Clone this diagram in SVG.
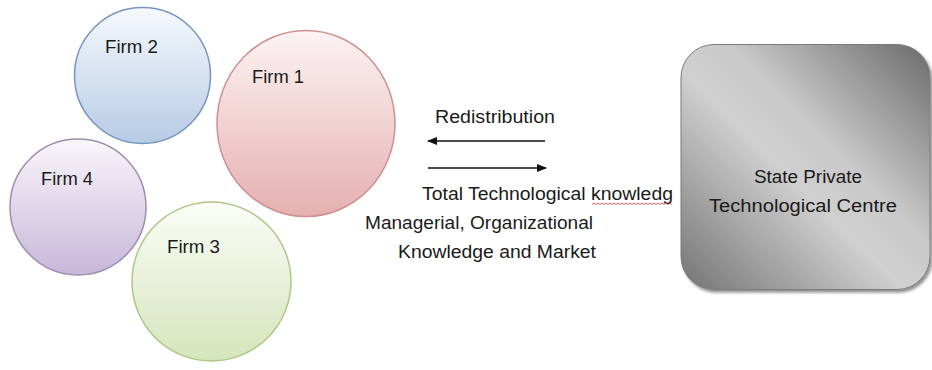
<svg xmlns="http://www.w3.org/2000/svg" width="932" height="370" viewBox="0 0 932 370">
  <defs>
    <style>
      .lbl { font-family: "Liberation Sans", Arial, sans-serif; font-size: 17.5px; fill: #1a1a1a; }
      .firm { stroke-width: 1.5; }
      .arrow { stroke: #111; stroke-width: 1.6; fill: none; }
    </style>
    <linearGradient id="gRed" x1="0" y1="0" x2="0" y2="1">
      <stop offset="0" stop-color="#fdf3f3"/>
      <stop offset="1" stop-color="#e5b0b0"/>
    </linearGradient>
    <linearGradient id="gBlue" x1="0" y1="0" x2="0" y2="1">
      <stop offset="0" stop-color="#f6f9fd"/>
      <stop offset="1" stop-color="#b6cbe5"/>
    </linearGradient>
    <linearGradient id="gPurple" x1="0" y1="0" x2="0" y2="1">
      <stop offset="0" stop-color="#f9f6fb"/>
      <stop offset="1" stop-color="#c7b7d9"/>
    </linearGradient>
    <linearGradient id="gGreen" x1="0" y1="0" x2="0" y2="1">
      <stop offset="0" stop-color="#fbfdf7"/>
      <stop offset="1" stop-color="#d5e5bb"/>
    </linearGradient>
    <linearGradient id="gGray" x1="0" y1="1" x2="1" y2="0">
      <stop offset="0" stop-color="#747474"/>
      <stop offset="0.45" stop-color="#d0d0d0"/>
      <stop offset="0.6" stop-color="#c8c8c8"/>
      <stop offset="1" stop-color="#6a6a6a"/>
    </linearGradient>
    <filter id="shadow" x="-10%" y="-10%" width="125%" height="125%">
      <feDropShadow dx="2" dy="2.5" stdDeviation="1.8" flood-color="#000" flood-opacity="0.45"/>
    </filter>
    <marker id="head" markerWidth="10" markerHeight="8" refX="9" refY="4" orient="auto" markerUnits="userSpaceOnUse">
      <path d="M0,0 L10,4 L0,8 Z" fill="#111"/>
    </marker>
  </defs>
  <rect width="932" height="370" fill="#ffffff"/>

  <g id="firm2">
    <circle class="firm" cx="142.5" cy="75.5" r="68" fill="url(#gBlue)" stroke="#7894c0"/>
    <text class="lbl" x="105" y="53" textLength="53" lengthAdjust="spacingAndGlyphs">Firm 2</text>
  </g>
  <g id="firm1">
    <ellipse class="firm" cx="306" cy="123.5" rx="89" ry="93" fill="url(#gRed)" stroke="#cf8f8f"/>
    <text class="lbl" x="252" y="83" textLength="52" lengthAdjust="spacingAndGlyphs">Firm 1</text>
  </g>
  <g id="firm4">
    <circle class="firm" cx="78" cy="207" r="68" fill="url(#gPurple)" stroke="#9d8db3"/>
    <text class="lbl" x="41" y="185" textLength="52" lengthAdjust="spacingAndGlyphs">Firm 4</text>
  </g>
  <g id="firm3">
    <circle class="firm" cx="211.5" cy="281.5" r="79.5" fill="url(#gGreen)" stroke="#adc786"/>
    <text class="lbl" x="167" y="253" textLength="53" lengthAdjust="spacingAndGlyphs">Firm 3</text>
  </g>

  <g id="centre">
    <rect x="681" y="44.5" width="249" height="245" rx="33" ry="33" fill="url(#gGray)" stroke="#7c7c7c" stroke-width="1" filter="url(#shadow)"/>
    <text class="lbl" x="808" y="183" text-anchor="middle" textLength="108" lengthAdjust="spacingAndGlyphs">State Private</text>
    <text class="lbl" x="803" y="212" text-anchor="middle" textLength="188" lengthAdjust="spacingAndGlyphs">Technological Centre</text>
  </g>

  <g id="connectors">
    <line class="arrow" x1="545" y1="141" x2="428" y2="141" marker-end="url(#head)"/>
    <line class="arrow" x1="428" y1="168" x2="546" y2="168" marker-end="url(#head)"/>
  </g>

  <g id="labels">
    <text class="lbl" x="435" y="123" textLength="120" lengthAdjust="spacingAndGlyphs">Redistribution</text>
    <text class="lbl" x="422" y="200" textLength="251" lengthAdjust="spacingAndGlyphs">Total Technological knowledg</text>
    <path d="M592,204.5 l2,-1.5 l2,1.5 l2,-1.5 l2,1.5 l2,-1.5 l2,1.5 l2,-1.5 l2,1.5 l2,-1.5 l2,1.5 l2,-1.5 l2,1.5 l2,-1.5 l2,1.5 l2,-1.5 l2,1.5 l2,-1.5 l2,1.5 l2,-1.5 l2,1.5 l2,-1.5 l2,1.5 l2,-1.5 l2,1.5 l2,-1.5 l2,1.5 l2,-1.5 l2,1.5 l2,-1.5 l2,1.5 l2,-1.5 l2,1.5 l2,-1.5 l2,1.5 l2,-1.5 l2,1.5 l2,-1.5 l2,1.5 l2,-1.5 l2,1.5" fill="none" stroke="#d04545" stroke-width="0.9"/>
    <text class="lbl" x="365" y="229" textLength="228" lengthAdjust="spacingAndGlyphs">Managerial, Organizational</text>
    <text class="lbl" x="398" y="258" textLength="198" lengthAdjust="spacingAndGlyphs">Knowledge and Market</text>
  </g>
</svg>
